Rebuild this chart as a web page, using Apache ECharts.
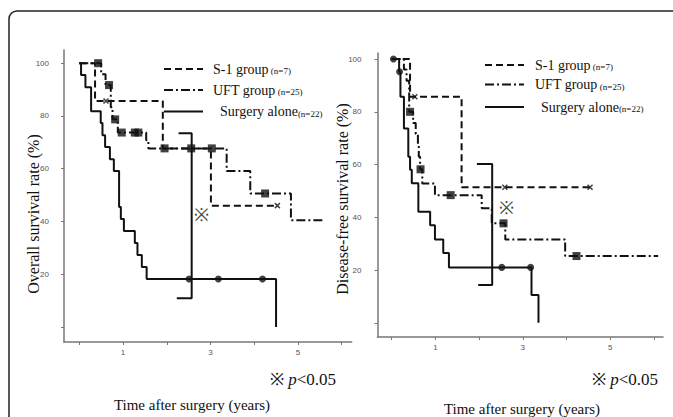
<!DOCTYPE html>
<html><head><meta charset="utf-8">
<script src="https://cdn.jsdelivr.net/npm/echarts@6/dist/echarts.min.js"></script>
<style>html,body{margin:0;padding:0;background:#fff}#c{width:673px;height:417px}</style>
</head><body><div id="c"></div><script>
// ---- axis ticks ----
const xTicks = [0, 1, 2, 3, 4, 5, 6];
const xTickLabels = [1, 3, 5];
const yTicks = [0, 20, 40, 60, 80, 100];
const yTickLabels = [20, 40, 60, 80, 100];

// ---- Overall survival (left) ----
const osSurgeryT = [0, 0.04, 0.14, 0.27, 0.49, 0.53, 0.59, 0.70, 0.79, 0.91, 0.95, 1.02, 1.27, 1.33, 1.43, 1.54, 4.50];
const osSurgeryV = [100, 95.5, 90.9, 81.8, 77.3, 72.7, 68.2, 63.6, 59.1, 45.5, 40.9, 36.4, 31.8, 27.3, 22.7, 18.2, 0];
const osSurgeryCensT = [2.51, 3.18, 4.19];
const osSurgeryCensV = [18.2, 18.2, 18.2];

const osS1T = [0, 0.36, 1.91, 3.01, 4.53];
const osS1V = [100, 85.7, 67.7, 46.0, 46.0];
const osS1CensT = [0.61, 4.53];
const osS1CensV = [85.7, 46.0];

const osUftT = [0, 0.50, 0.60, 0.72, 0.76, 0.88, 1.53, 1.58, 3.37, 3.91, 4.84, 5.58];
const osUftV = [100, 95.8, 91.7, 83.3, 78.7, 73.7, 70.8, 67.7, 59.1, 50.6, 40.5, 40.5];
const osUftCensT = [0.43, 0.68, 0.82, 0.97, 1.27, 1.35, 1.95, 2.56, 3.03, 4.25];
const osUftCensV = [100, 91.7, 78.7, 73.7, 73.7, 73.7, 67.7, 67.7, 67.7, 50.6];

const osBracketT = [2.27, 2.57, 2.57, 2.23];
const osBracketV = [73.4, 73.4, 10.9, 10.9];
const osMarkT = 2.80, osMarkV = 42.4;

// ---- Disease-free survival (right) ----
const dfsSurgeryT = [0, 0.17, 0.20, 0.28, 0.38, 0.42, 0.46, 0.61, 0.88, 0.99, 1.18, 1.31, 3.20, 3.36];
const dfsSurgeryV = [100, 95.2, 85.7, 73.7, 63.0, 58.0, 52.9, 42.1, 37.0, 31.6, 26.5, 21.0, 10.5, 0];
const dfsSurgeryCensT = [0.04, 0.18, 2.52, 3.18];
const dfsSurgeryCensV = [100, 95.2, 21.0, 21.0];

const dfsS1T = [0, 0.42, 1.60, 4.58];
const dfsS1V = [100, 85.7, 51.4, 51.4];
const dfsS1CensT = [0.53, 2.59, 4.54];
const dfsS1CensV = [85.7, 51.4, 51.4];

const dfsUftT = [0, 0.28, 0.34, 0.40, 0.49, 0.55, 0.60, 0.62, 0.65, 0.70, 0.99, 2.06, 2.29, 2.60, 3.97, 6.10];
const dfsUftV = [100, 96.0, 91.8, 80.0, 75.8, 71.6, 67.4, 63.0, 58.2, 52.8, 48.4, 43.4, 37.7, 31.6, 25.3, 25.3];
const dfsUftCensT = [0.42, 0.66, 1.35, 2.56, 4.23];
const dfsUftCensV = [80.0, 58.2, 48.4, 37.7, 25.3];

const dfsBracketT = [1.95, 2.30, 2.30, 1.98];
const dfsBracketV = [60.2, 60.2, 14.3, 14.3];
const dfsMarkT = 2.63, dfsMarkV = 43.4;

// ---- text ----
const leftYTitle = 'Overall survival rate (%)';
const rightYTitle = 'Disease-free survival rate (%)';
const xTitle = 'Time after surgery (years)';
const legendNames = ['S-1 group', 'UFT group', 'Surgery alone'];
const legendN = ['(n=7)', '(n=25)', '(n=22)'];

const zip = (a, b) => a.map((v, i) => [v, b[i]]);
const INK = '#111';
const SERIF = '"Liberation Serif", "DejaVu Serif", serif';
const DASH = [7, 4];
const DASHDOT = [9, 3, 2, 3];
const crossPath = 'path://M0,0L10,10M10,0L0,10';

function axisX(idx, min, max) {
  return {
    type: 'value', gridIndex: idx, min: min, max: max,
    axisLine: { show: true, onZero: false, lineStyle: { color: '#777', width: 1.5 } },
    axisTick: { show: true, customValues: xTicks, length: 3, lineStyle: { color: '#777', width: 1 } },
    axisLabel: { customValues: xTickLabels, fontSize: 8, color: '#555', margin: 6, fontFamily: 'Liberation Sans' },
    splitLine: { show: false }
  };
}
function axisY(idx, min, max, margin) {
  return {
    type: 'value', gridIndex: idx, min: min, max: max,
    axisLine: { show: true, onZero: false, lineStyle: { color: '#777', width: 1.5 } },
    axisTick: { show: true, customValues: yTicks, length: 3, lineStyle: { color: '#777', width: 1 } },
    axisLabel: { customValues: yTickLabels, fontSize: 8, color: '#555', margin: margin, fontFamily: 'Liberation Sans' },
    splitLine: { show: false }
  };
}
function km(idx, t, v, dash) {
  return { type: 'line', xAxisIndex: idx, yAxisIndex: idx, step: 'end', symbol: 'none', silent: true,
    data: zip(t, v), lineStyle: { color: INK, width: 2, type: dash } };
}
function marks(idx, t, v, sym, size, hollow) {
  return { type: 'scatter', xAxisIndex: idx, yAxisIndex: idx, symbol: sym, symbolSize: size, silent: true, z: 5,
    data: zip(t, v),
    itemStyle: hollow ? { color: 'transparent', borderColor: INK, borderWidth: 1.5 } : { color: INK } };
}
function bracket(idx, t, v) {
  return { type: 'line', xAxisIndex: idx, yAxisIndex: idx, symbol: 'none', silent: true,
    data: zip(t, v), lineStyle: { color: INK, width: 2 } };
}
function markText(idx, t, v) {
  return { type: 'scatter', xAxisIndex: idx, yAxisIndex: idx, symbolSize: 0, silent: true,
    data: [[t, v]],
    label: { show: true, position: 'inside', formatter: '※', fontSize: 18, color: INK, fontFamily: SERIF } };
}

const graphic = [
  { type: 'rect', silent: true, z: -1, shape: { x: 9, y: 11, width: 720, height: 460, r: 8 },
    style: { fill: 'none', stroke: '#222', lineWidth: 1.5 } },
  { type: 'text', x: 33, y: 214, rotation: Math.PI / 2,
    style: { text: leftYTitle, font: '16px ' + SERIF, fill: INK, align: 'center', verticalAlign: 'middle' } },
  { type: 'text', x: 342, y: 199, rotation: Math.PI / 2,
    style: { text: rightYTitle, font: '16px ' + SERIF, fill: INK, align: 'center', verticalAlign: 'middle' } },
  { type: 'text', x: 192, y: 405,
    style: { text: xTitle, font: '15px ' + SERIF, fill: INK, align: 'center', verticalAlign: 'middle' } },
  { type: 'text', x: 522, y: 409,
    style: { text: xTitle, font: '15px ' + SERIF, fill: INK, align: 'center', verticalAlign: 'middle' } }
];

function pText(x, y) {
  return { type: 'text', x: x, y: y,
    style: { text: '{a|※ }{b|p}{a|<0.05}', align: 'left', verticalAlign: 'middle',
      rich: { a: { font: '17px ' + SERIF, fill: INK }, b: { font: 'italic 17px ' + SERIF, fill: INK } } } };
}
graphic.push(pText(270, 379), pText(592, 379));

function legendBlock(x0, x1, ys, tx) {
  const dashes = [DASH, DASHDOT, null];
  ys.forEach((y, i) => {
    graphic.push({ type: 'line', silent: true, shape: { x1: x0, y1: y, x2: x1, y2: y },
      style: { stroke: INK, lineWidth: 2, lineDash: dashes[i] } });
    graphic.push({ type: 'text', x: tx[i], y: y,
      style: { text: '{a|' + legendNames[i] + '}{b|' + (i === 2 ? '' : ' ') + legendN[i] + '}',
        verticalAlign: 'middle', align: 'left',
        rich: { a: { font: '14px ' + SERIF, fill: INK }, b: { font: '9px ' + SERIF, fill: INK, padding: [4, 0, 0, 0] } } } });
  });
}
legendBlock(164, 203, [69, 90, 111.5], [213, 213, 220]);
legendBlock(485, 524, [65, 84.5, 107], [535, 535, 541]);

const option = {
  animation: false,
  backgroundColor: '#fff',
  grid: [
    { left: 64, top: 50, width: 287.7, height: 292 },
    { left: 377.5, top: 53, width: 285.5, height: 284 }
  ],
  xAxis: [axisX(0, -0.35, 6.23), axisX(1, -0.325, 6.21)],
  yAxis: [axisY(0, -5.7, 105, 15), axisY(1, -5.4, 102.3, 16)],
  graphic: graphic,
  series: [
    km(0, osS1T, osS1V, DASH),
    km(0, osUftT, osUftV, DASHDOT),
    km(0, osSurgeryT, osSurgeryV, 'solid'),
    marks(0, osSurgeryCensT, osSurgeryCensV, 'circle', 7, false),
    marks(0, osUftCensT, osUftCensV, 'rect', 8, false),
    marks(0, osS1CensT, osS1CensV, crossPath, 5, true),
    bracket(0, osBracketT, osBracketV),
    markText(0, osMarkT, osMarkV),
    km(1, dfsS1T, dfsS1V, DASH),
    km(1, dfsUftT, dfsUftV, DASHDOT),
    km(1, dfsSurgeryT, dfsSurgeryV, 'solid'),
    marks(1, dfsSurgeryCensT, dfsSurgeryCensV, 'circle', 7, false),
    marks(1, dfsUftCensT, dfsUftCensV, 'rect', 8, false),
    marks(1, dfsS1CensT, dfsS1CensV, crossPath, 5, true),
    bracket(1, dfsBracketT, dfsBracketV),
    markText(1, dfsMarkT, dfsMarkV)
  ]
};
const chart = echarts.init(document.getElementById('c'), null, { renderer: 'svg' });
chart.setOption(option);
</script></body></html>
